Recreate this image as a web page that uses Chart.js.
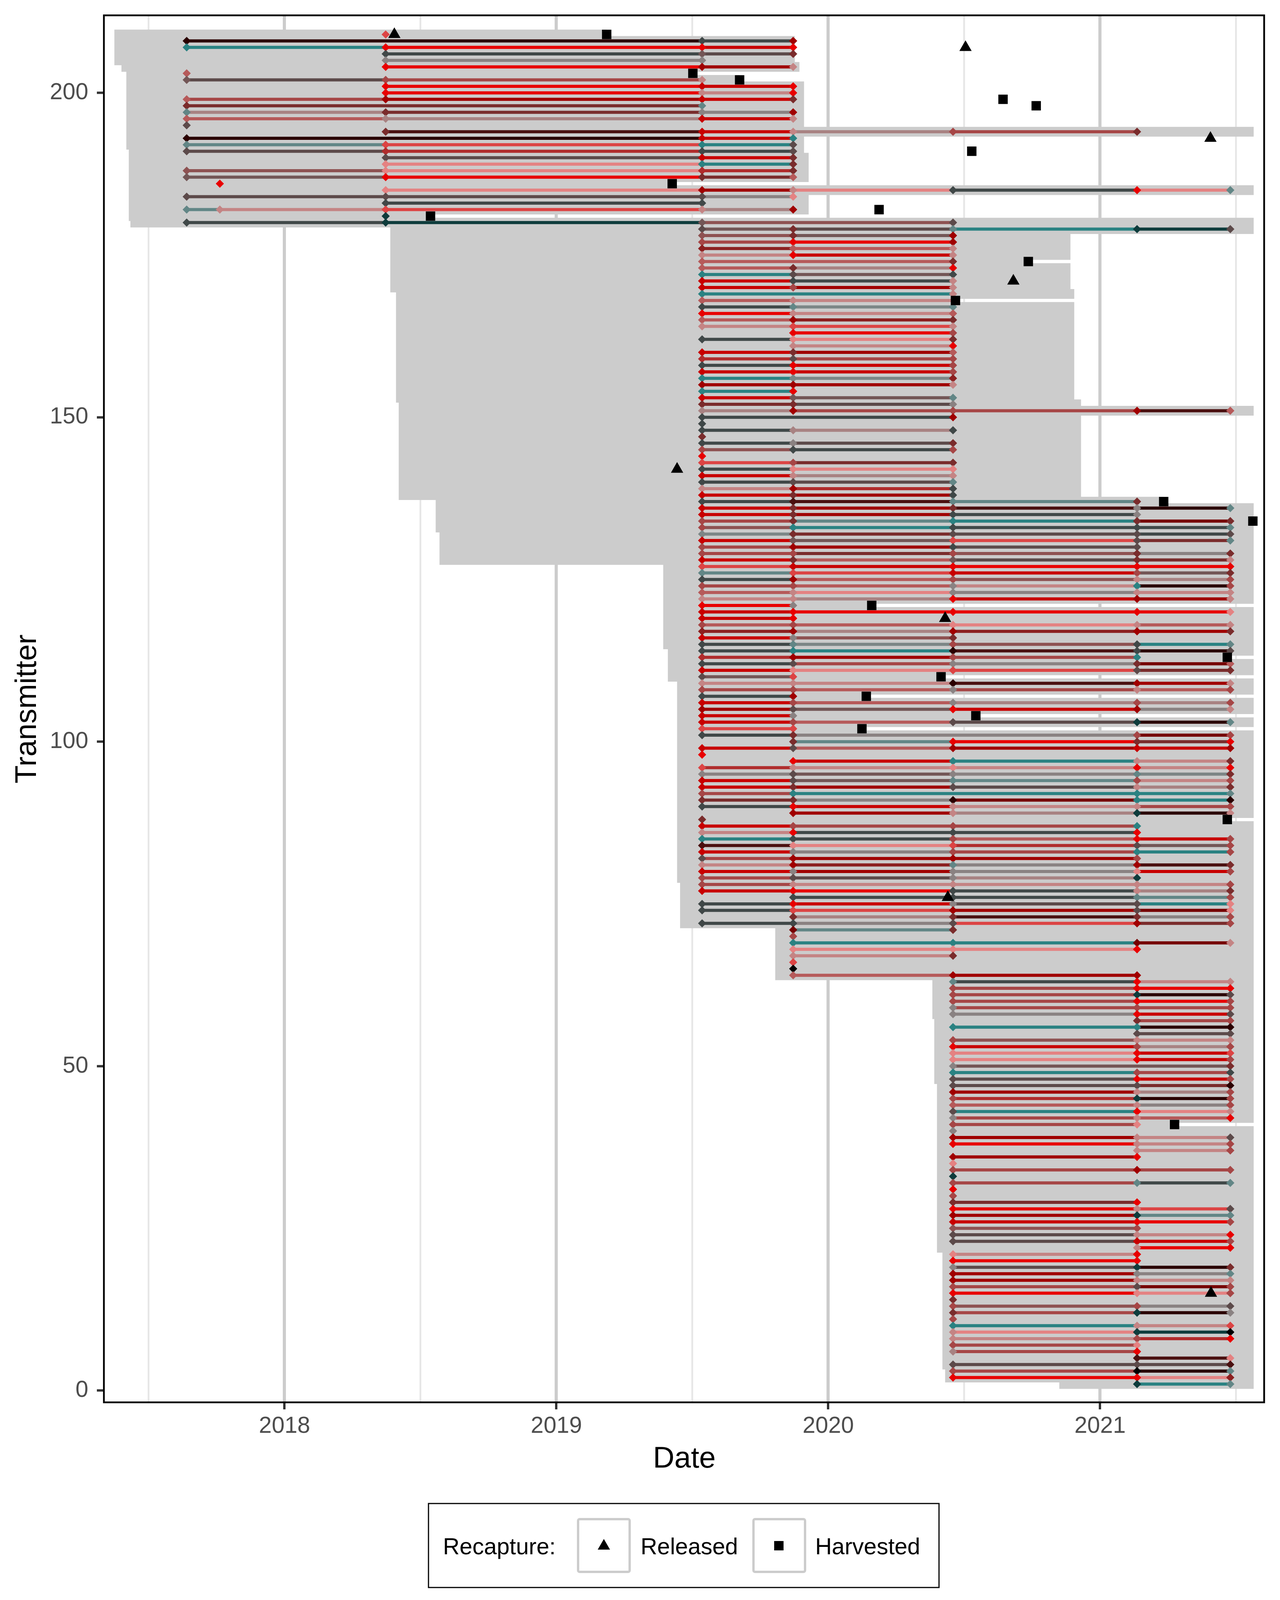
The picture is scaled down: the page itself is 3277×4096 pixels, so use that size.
<!DOCTYPE html>
<html>
<head>
<meta charset="utf-8">
<script src="https://cdn.jsdelivr.net/npm/chart.js@4.4.1/dist/chart.umd.min.js"></script>
<style>
  html, body { margin: 0; padding: 0; background: #fff; }
  canvas { display: block; }
</style>
</head>
<body>
<canvas id="chart" width="3277" height="4096"></canvas>
<script>
// sampling occasions (decimal years); column j of the state strings below
const occasions = [2017.64, 2017.762, 2018.372, 2019.536, 2019.871, 2020.459, 2021.136, 2021.479];

// one entry per transmitter, from 209 down to 1
// state at each occasion ('.' = not detected)
const pointStates = [
  "..S.....", "K..GD...", "T.RRR...", "..GbM...", "..gg....", "..RDp...", "n.......", "b.mp....", "..RrR...", "..RpR...", // 209-200
  "n.DrM...", "M..t....", "t.MgD...", "n.qrp...", "B.......", "..MrpmM.", "K..rT...", "t.STB...", "B.xGB...", "..BrM...", // 199-190
  "..PTM...", "o.PxM...", "b.RMn...", ".R......", "..PDpGRt", "B.BBP...", "..GG....", "tpSpD...", "..N.....", "G.Nb.B..", // 189-180
  "...BMtNB", "...oMD..", "...mRD..", "...dnp..", "...pRp..", "...n.M..", "...nMR..", "...TBG..", "...rGp..", "...rmp..", // 179-170
  "...T.p..", "...npp..", "...Gtt..", "...Rpn..", "...nDM..", "...pSp..", "....Rm..", "...GPM..", "....pR..", "...rMn..", // 169-160
  "...xBm..", "...GRm..", "...rRm..", "...Thd..", "...DDp..", "...TR...", "...rbt..", "...MMg..", "...qDmDn", "...G.D..", // 159-150
  "...G....", "...GqG..", "...M....", "...GgM..", "...mGm..", "...R....", "...SmM..", "...GPP..", "...rpp..", "...GBt..", // 149-140
  "...pDG..", "...rMG..", "...GktM.", "...rMMgt", "...rMGg.", "...mMTMM", "...mTGGt", "...hMBBB", "...rbSBt", "...mDGB.", // 139-130
  "...mmmMM", "...rMbMp", "...SrRRR", "...tSrmM", "...GDmpm", "...mmgTm", "...npgpp", "...ppRDp", "...Rg...", "...rRRRP", // 129-120
  "...rR...", "...mmPpp", "...dDDDM", "...rgM..", "...GtmGt", "...GTKGB", "...xDmT.", "...GBgMn", "...rPSBM", "...BS...", // 119-110
  "...ppKDp", "...mmgpm", "...GD...", "...rmgmm", "...DBRDp", "...rg...", "...rmBNt", "...SS...", "...GM.mm", "....MRMR", // 109-100
  "...rBDrD", "...R....", "....RTpM", "...SpPRR", "...gBgtM", "...rBtmm", "...rMBpM", "...mT.Tt", "...MMKTK", "...GRppm", // 99-90
  "....DpNp", "...M....", "...rmmT.", "...pRGR.", "...TGmRm", "...kPSBm", "...rgmTm", "...BDDm.", "...pDtDM", "...rggPm", // 89-80
  "...mBgN.", "...mpppm", "...rRGpM", "....GGtm", "...GRgBP", "...GSDBP", "....MMMm", "...GGBDm", "....eM..", "....m...", // 79-70
  "....TTep", "....PPR.", "....pM..", "....S...", "....Z...", "....nDD.", ".....tRp", ".....mRR", ".....mNB", ".....mRm", // 69-60
  ".....gmm", ".....gRB", "......Mm", ".....TTK", "......BB", ".....mpp", ".....Rmm", ".....PRS", ".....PRm", ".....g.M", // 59-50
  ".....TmG", ".....BRm", ".....BBK", ".....Dpm", ".....mNm", ".....npm", ".....BRp", ".....gpR", ".....mP.", ".....g..", // 49-40
  ".....DpB", ".....Rpm", "......pm", ".....DR.", ".....P..", ".....mDm", ".....N..", ".....mtt", ".....R..", ".....m..", // 39-30
  ".....MR.", ".....RpB", ".....DNt", ".....rRm", ".....om.", ".....BpR", ".....Brm", "......pR", ".....PR.", ".....RR.", // 29-20
  ".....gNM", ".....Dgt", ".....Dpp", ".....mBm", ".....RPm", ".....M..", ".....mmB", ".....MNg", ".....m..", ".....TpS", // 19-10
  ".....pNZ", ".....pmR", ".....mP.", ".....qR.", "......kP", ".....BBk", ".....mZt", ".....RRd", "......Nt"              // 9-1
];

// state of the segment leaving each occasion ('.' = same as the point)
const segmentStates = [
  "........", "K..G....", "T.Rr....", "..GB....", "..g.....", "..RD....", "........", "B.m.....", "..Rr....", "..Rp....",
  "m.Dr....", "M.......", "q.Mg....", "n.qr....", "........", "..krqm..", "K..r....", "t.ST....", "B.xG....", "..Br....",
  "..PT....", "o.Px....", "b.RM....", "........", "..PDPGP.", "B.Bg....", "..G.....", "tpSq....", "........", "G.No....",
  "...bBTN.", "...ob...", "...mR...", "...dn...", "...pr...", "...n....", "...nq...", "...Tb...", "...rG...", "...rD...",
  "...T....", "...np...", "...Gh...", "...Rp...", "...nd...", "...pS...", "....R...", "...GP...", "....p...", "...rD...",
  "...xm...", "...Gr...", "...rr...", "...Th...", "...DD...", "...T....", "...rb...", "...MB...", "...qmmk.", "...G....",
  "........", "...Gq...", "........", "...GB...", "...oG...", "........", "...SM...", "...GP...", "...rq...", "...GB...",
  "...px...", "...rD...", "...Gkt..", "...rDkK.", "...rDG..", "...mtTe.", "...oTGG.", "...hMBG.", "...rbSM.", "...mDB..",
  "...mMog.", "...rnBM.", "...SrRR.", "...tSrb.", "...Gnoq.", "...mnpK.", "...nPgp.", "...pqrD.", "...R....", "...rRRR.",
  "...r....", "...nnPn.", "...dqdD.", "...ro...", "...GhoT.", "...GTkK.", "...xDm..", "...Gmge.", "...rPSM.", "...b....",
  "...ppkD.", "...mnmn.", "...G....", "...rnqq.", "...Dbrg.", "...r....", "...rnBK.", "...S....", "...Gg.e.", "....tRM.",
  "...rnDr.", "........", "....rTp.", "...xppp.", "...gbgh.", "...rbtp.", "...rDBq.", "...mT.T.", "...MgeT.", "...Grpm.",
  "....DqK.", "........", "...rmm..", "...pGG..", "...TGnr.", "...kPxb.", "...rgmT.", "...mDD..", "...pdgk.", "...rDgr.",
  "...mBq..", "...mppp.", "...rRGq.", "....GGt.", "...GrBT.", "...GSDe.", "....qkg.", "...GgSM.", "....t...", "........",
  "....TTe.", "....PP..", "....p...", "........", "........", "....nD..", ".....Gp.", ".....mR.", ".....mK.", ".....mR.",
  ".....mm.", ".....gr.", "......m.", ".....TK.", "......B.", ".....op.", ".....rq.", ".....Pr.", ".....Pr.", ".....b..",
  ".....Tm.", ".....Br.", ".....BM.", ".....Dq.", ".....xK.", ".....ng.", ".....TP.", ".....mn.", ".....m..", "........",
  ".....Dp.", ".....Rp.", "......p.", ".....D..", "........", ".....mm.", "........", ".....mG.", "........", "........",
  ".....M..", ".....RS.", ".....Dt.", ".....rR.", ".....o..", ".....Bp.", ".....Br.", "......R.", ".....p..", ".....R..",
  ".....BK.", ".....Dg.", ".....Dp.", ".....me.", ".....RP.", "........", ".....og.", ".....mK.", "........", ".....Tp.",
  ".....PN.", ".....px.", ".....m..", ".....m..", "......k.", ".....BB.", ".....mK.", ".....RP.", "......T."
];

const stateColors = {
  R: '#e80000', r: '#c80000', D: '#a00000', d: '#8c2020', e: '#760000', K: '#2a0000', k: '#4a1010',
  M: '#7a2c2c', m: '#a64646', n: '#b65a5a', x: '#b02c2c', S: '#dc4444', P: '#e48282', p: '#c48484',
  q: '#a88282', g: '#8a8282', h: '#7c8686', o: '#8e5252', b: '#735656', B: '#5c4a4a', G: '#404848',
  N: '#0e3c3c', T: '#2a8282', t: '#628686', Z: '#000000'
};

// tag life windows, by blocks of transmitters
const bandTop    = [209, 204, 203, 202, 191, 190, 180, 179, 178, 169, 152, 137, 132, 127, 114, 109, 78, 71, 63, 57, 47, 21, 3, 1];
const bandBottom = [205, 204, 203, 192, 191, 181, 180, 179, 170, 153, 138, 133, 128, 115, 110, 79, 72, 64, 58, 48, 22, 4, 2, 1];
const bandStart  = [2017.374, 2017.400, 2017.418, 2017.418, 2017.427, 2017.427, 2017.433, 2018.389, 2018.389, 2018.41, 2018.42,
                    2018.556, 2018.57, 2019.393, 2019.41, 2019.444, 2019.455, 2019.805, 2020.383, 2020.39, 2020.40, 2020.42, 2020.43, 2020.85];
const bandEnd    = [2019.877, 2019.894, 2019.894, 2019.911, 2019.911, 2019.928, 2021.565, 2021.565, 2020.891, 2020.905, 2020.93,
                    2021.565, 2021.565, 2021.565, 2021.565, 2021.565, 2021.565, 2021.565, 2021.565, 2021.565, 2021.565, 2021.565, 2021.565, 2021.565];
const extendedIds = [194, 185, 151];
const extendedEnd = 2021.565;

// recaptures
const releasedX = [2018.404, 2020.505, 2020.681, 2021.406, 2019.444, 2020.43, 2020.44, 2021.408];
const releasedY = [209, 207, 171, 193, 142, 119, 76, 15];
const harvestedX = [2019.185, 2019.502, 2019.674, 2020.643, 2020.765, 2020.528, 2019.426, 2020.187, 2018.537, 2020.736, 2020.468,
                    2021.234, 2021.562, 2020.16, 2021.468, 2020.415, 2020.14, 2020.543, 2020.124, 2021.468, 2021.274];
const harvestedY = [209, 203, 202, 199, 198, 191, 186, 182, 181, 174, 168, 137, 134, 121, 113, 110, 107, 104, 102, 88, 41];

const xTickVals = [2017.5, 2018, 2018.5, 2019, 2019.5, 2020, 2020.5, 2021, 2021.5];
const yTickVals = [0, 50, 100, 150, 200];

if (pointStates.length !== segmentStates.length) throw new Error('state arrays differ in length');
const nTags = pointStates.length;
const ids = pointStates.map((_, i) => nTags - i);

// gray bands
const bandData = [];
ids.forEach(id => {
  const b = bandTop.findIndex((t, k) => id <= t && id >= bandBottom[k]);
  const s = bandStart[b];
  let e = extendedIds.includes(id) ? extendedEnd : bandEnd[b];
  harvestedY.forEach((hy, k) => {
    if (hy === id && harvestedX[k] > s && harvestedX[k] < e) e = harvestedX[k];
  });
  bandData.push({ x: s, y: id }, { x: e, y: id }, { x: null, y: null });
});

// track segments and detection diamonds
const segData = [], segColor = [], dotData = [], dotColor = [];
pointStates.forEach((ps, i) => {
  const id = ids[i], ss = segmentStates[i];
  const cols = [];
  for (let j = 0; j < ps.length; j++) if (ps[j] !== '.') cols.push(j);
  cols.forEach(j => {
    dotData.push({ x: occasions[j], y: id });
    dotColor.push(stateColors[ps[j]]);
  });
  if (cols.length > 1) {
    cols.forEach(j => {
      segData.push({ x: occasions[j], y: id });
      segColor.push(stateColors[ss[j] !== '.' ? ss[j] : ps[j]]);
    });
    segData.push({ x: null, y: null });
    segColor.push(null);
  }
});

const releasedData = releasedX.map((x, i) => ({ x, y: releasedY[i] }));
const harvestedData = harvestedX.map((x, i) => ({ x, y: harvestedY[i] }));

const FONT = "'Liberation Sans', Arial, Helvetica, sans-serif";
Chart.defaults.font.family = FONT;

const isMajor = v => Math.abs(v - Math.round(v)) < 1e-6;
const unitPx = c => {
  const y = c.chart.scales.y;
  return Math.abs(y.getPixelForValue(0) - y.getPixelForValue(1));
};

const frameAndText = {
  id: 'frameAndText',
  beforeDraw(chart) {
    const ctx = chart.ctx;
    ctx.save();
    ctx.fillStyle = '#fff';
    ctx.fillRect(0, 0, chart.width, chart.height);
    ctx.restore();
  },
  afterDatasetsDraw(chart) {
    const { ctx, chartArea: a } = chart;
    ctx.save();
    ctx.strokeStyle = '#000';
    ctx.lineWidth = 4.5;
    ctx.strokeRect(a.left, a.top, a.right - a.left, a.bottom - a.top);
    ctx.restore();
  },
  afterDraw(chart) {
    const ctx = chart.ctx;
    ctx.save();
    ctx.fillStyle = '#000';
    ctx.font = '76px ' + FONT;
    ctx.textAlign = 'center';
    ctx.textBaseline = 'alphabetic';
    ctx.fillText('Date', 1752, 3757);
    ctx.save();
    ctx.translate(92, 1815);
    ctx.rotate(-Math.PI / 2);
    ctx.fillText('Transmitter', 0, 0);
    ctx.restore();

    // legend
    ctx.strokeStyle = '#000';
    ctx.lineWidth = 3;
    ctx.strokeRect(1097, 3849, 1307, 215);
    ctx.font = '59px ' + FONT;
    ctx.textAlign = 'left';
    ctx.fillText('Recapture:', 1134, 3979);
    ctx.fillText('Released', 1640, 3979);
    ctx.fillText('Harvested', 2087, 3979);
    ctx.strokeStyle = '#cccccc';
    ctx.lineWidth = 6;
    [1477, 1926].forEach(x0 => {
      ctx.beginPath();
      ctx.roundRect(x0 + 3, 3889, 132, 135, 4);
      ctx.stroke();
    });
    const r = 18.2;
    ctx.beginPath();
    ctx.moveTo(1546, 3958 - r);
    ctx.lineTo(1546 + r * Math.sin(2 * Math.PI / 3), 3958 + r / 2);
    ctx.lineTo(1546 - r * Math.sin(2 * Math.PI / 3), 3958 + r / 2);
    ctx.closePath();
    ctx.fill();
    ctx.fillRect(1994 - 12, 3957 - 12, 24, 24);
    ctx.restore();
  }
};

new Chart(document.getElementById('chart'), {
  type: 'scatter',
  data: {
    datasets: [
      { data: bandData, showLine: true, borderColor: '#cccccc', borderWidth: c => 1.5 * unitPx(c),
        borderCapStyle: 'butt', pointRadius: 0, spanGaps: false, order: 4 },
      { data: segData, showLine: true, borderColor: '#888', borderWidth: 8, borderCapStyle: 'butt',
        pointRadius: 0, spanGaps: false, order: 3,
        segment: { borderColor: s => segColor[s.p0DataIndex] } },
      { data: dotData, pointStyle: 'rectRot', pointRadius: 10.5, pointBackgroundColor: dotColor,
        pointBorderWidth: 0, order: 2 },
      { data: releasedData, pointStyle: 'triangle', pointRadius: 18.2, pointBackgroundColor: '#000',
        pointBorderWidth: 0, order: 1 },
      { data: harvestedData, pointStyle: 'rect', pointRadius: 17, pointBackgroundColor: '#000',
        pointBorderWidth: 0, order: 1 }
    ]
  },
  options: {
    responsive: false,
    animation: false,
    devicePixelRatio: 1,
    events: [],
    layout: { padding: { left: 0, top: 39.3, right: 40.6, bottom: 386 }, autoPadding: false },
    plugins: { legend: { display: false }, tooltip: { enabled: false } },
    scales: {
      x: {
        type: 'linear', min: 2017.3355, max: 2021.6035,
        afterBuildTicks: s => { s.ticks = xTickVals.map(v => ({ value: v })); },
        afterFit: s => { s.height = 120; s.paddingLeft = 0; s.paddingRight = 0; },
        border: { display: false },
        grid: {
          color: c => isMajor(c.tick.value) ? '#cccccc' : '#e6e6e6',
          lineWidth: c => isMajor(c.tick.value) ? 8 : 4.5,
          tickLength: 18, tickWidth: 6,
          tickColor: c => isMajor(c.tick.value) ? '#333333' : 'rgba(0,0,0,0)'
        },
        ticks: {
          autoSkip: false, maxRotation: 0, minRotation: 0, padding: 8, color: '#4d4d4d',
          font: { size: 59 },
          callback: v => isMajor(v) ? String(Math.round(v)) : ''
        }
      },
      y: {
        type: 'linear', min: -1.82, max: 211.94,
        afterBuildTicks: s => { s.ticks = yTickVals.map(v => ({ value: v })); },
        afterFit: s => { s.width = 266; s.paddingTop = 0; s.paddingBottom = 0; },
        border: { display: false },
        grid: { drawOnChartArea: false, tickLength: 18, tickWidth: 6, tickColor: '#333333' },
        ticks: { padding: 22, color: '#4d4d4d', font: { size: 59 } }
      }
    }
  },
  plugins: [frameAndText]
});
</script>
</body>
</html>
